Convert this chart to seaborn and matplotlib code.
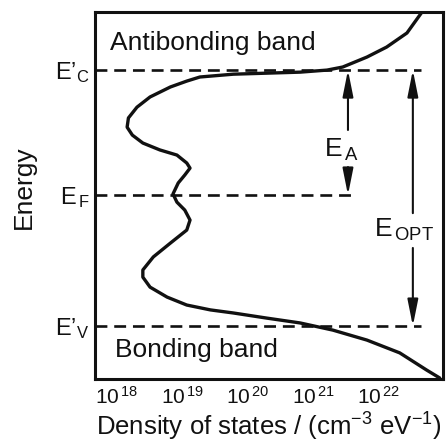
import numpy as np
import pandas as pd
import matplotlib
matplotlib.use("Agg")
import matplotlib.pyplot as plt
import seaborn as sns
from matplotlib.ticker import NullLocator

# Density of states of an amorphous semiconductor, log10(DOS / cm^-3 eV^-1) vs energy
# (energy in units where E'_V = 0 and E'_C = 1)
log_dos = [22.66, 22.43, 22.12, 21.82, 21.45, 21.21, 20.80, 20.29, 19.78, 19.27,
           19.07, 18.82, 18.51, 18.31, 18.18, 18.16, 18.24, 18.40, 18.66, 18.92,
           19.07, 19.12, 19.04, 18.94, 18.86, 18.92, 19.04, 19.12, 19.07, 18.82,
           18.56, 18.40, 18.40, 18.51, 18.77, 19.07, 19.43, 19.78, 20.29, 20.80,
           21.30, 21.82, 22.32, 22.73, 22.93]
energy = [1.227, 1.145, 1.090, 1.051, 1.012, 1.000, 0.992, 0.988, 0.984, 0.973,
          0.957, 0.934, 0.895, 0.855, 0.813, 0.777, 0.746, 0.715, 0.688, 0.668,
          0.637, 0.617, 0.590, 0.559, 0.516, 0.484, 0.453, 0.414, 0.375, 0.324,
          0.270, 0.219, 0.191, 0.152, 0.113, 0.082, 0.063, 0.051, 0.031, 0.012,
          -0.016, -0.055, -0.105, -0.172, -0.203]

# Characteristic energy levels
level_names = ["E'V", "EF", "E'C"]
level_energy = [0.0, 0.512, 1.0]
level_labels = [r"$\mathregular{E’_{V}}$", r"$\mathregular{E_{\,F}}$", r"$\mathregular{E’_{C}}$"]
level_line_end = [22.65, 21.65, 22.65]   # log10 DOS where each dashed line stops

# Decade ticks on the DOS axis
tick_exponents = [18, 19, 20, 21, 22]
tick_labels = [r"$\mathregular{10^{\,%d}}$" % e for e in tick_exponents]

df = pd.DataFrame({"dos": np.power(10.0, log_dos), "energy": energy})

sns.set_style("white")
plt.rcParams["font.family"] = ["Liberation Sans", "DejaVu Sans"]
plt.rcParams["mathtext.fontset"] = "custom"
plt.rcParams["mathtext.rm"] = "Liberation Sans"
plt.rcParams["mathtext.it"] = "Liberation Sans:italic"
plt.rcParams["mathtext.bf"] = "Liberation Sans:bold"

ink = "#111111"
fig = plt.figure(figsize=(4.47, 4.46), dpi=100)
ax = fig.add_axes([95 / 447, 1 - 379 / 446, 348 / 447, 367 / 446])

sns.lineplot(data=df, x="dos", y="energy", sort=False, estimator=None,
             color=ink, lw=2.4, ax=ax)

ax.set_xscale("log")
xmin, xmax = 10 ** 17.67, 10 ** 22.98
ax.set_xlim(xmin, xmax)
ax.set_ylim(-0.207, 1.227)

# dashed energy levels
for e, xe in zip(level_energy, level_line_end):
    ax.plot([xmin, 10 ** xe], [e, e], color=ink, lw=1.9,
            linestyle=(0, (4.5, 2.6)), dash_capstyle="butt")

# activation energy and optical gap arrows
head = "-|>,head_length=1.6,head_width=0.32"
arrow_kw = dict(arrowstyle=head, color=ink, lw=1.5, shrinkA=0, shrinkB=0)
x_ea = 10 ** 21.53
x_opt = 10 ** 22.52
ax.annotate("", xy=(x_ea, level_energy[2]), xytext=(x_ea, 0.766), arrowprops=arrow_kw)
ax.annotate("", xy=(x_ea, level_energy[1]), xytext=(x_ea, 0.621), arrowprops=arrow_kw)
ax.annotate("", xy=(x_opt, level_energy[2]), xytext=(x_opt, 0.441), arrowprops=arrow_kw)
ax.annotate("", xy=(x_opt, level_energy[0]), xytext=(x_opt, 0.305), arrowprops=arrow_kw)

ax.text(10 ** 21.43, 0.690, r"$\mathregular{E_{\,A}}$", fontsize=19, color=ink,
        ha="center", va="center")
ax.text(10 ** 22.39, 0.375, r"$\mathregular{E_{\,OPT}}$", fontsize=19, color=ink,
        ha="center", va="center")

ax.text(10 ** 17.90, 1.078, "Antibonding band", fontsize=19, color=ink,
        ha="left", va="baseline")
ax.text(10 ** 17.98, -0.121, "Bonding band", fontsize=19, color=ink,
        ha="left", va="baseline")

ax.set_xticks([10.0 ** e for e in tick_exponents])
ax.set_xticklabels(tick_labels, fontsize=15, color=ink)
ax.xaxis.set_minor_locator(NullLocator())
ax.tick_params(axis="x", direction="in", length=4, width=1.8, pad=5, color=ink)

ax.set_yticks(level_energy)
ax.set_yticklabels(level_labels, fontsize=17, color=ink)
ax.tick_params(axis="y", length=0, pad=4)

ax.set_xlabel(r"Density of states / (cm$^{-3}$ eV$^{-1}$)", fontsize=18.5,
              color=ink, labelpad=2)
ax.set_ylabel("")
fig.text(24 / 447, 1 - 187 / 446, "Energy", rotation=90, fontsize=19, color=ink,
         ha="center", va="center")

for s in ax.spines.values():
    s.set_visible(True)
    s.set_color(ink)
    s.set_linewidth(2.2)

fig.savefig("out.png", dpi=100, facecolor="white")
